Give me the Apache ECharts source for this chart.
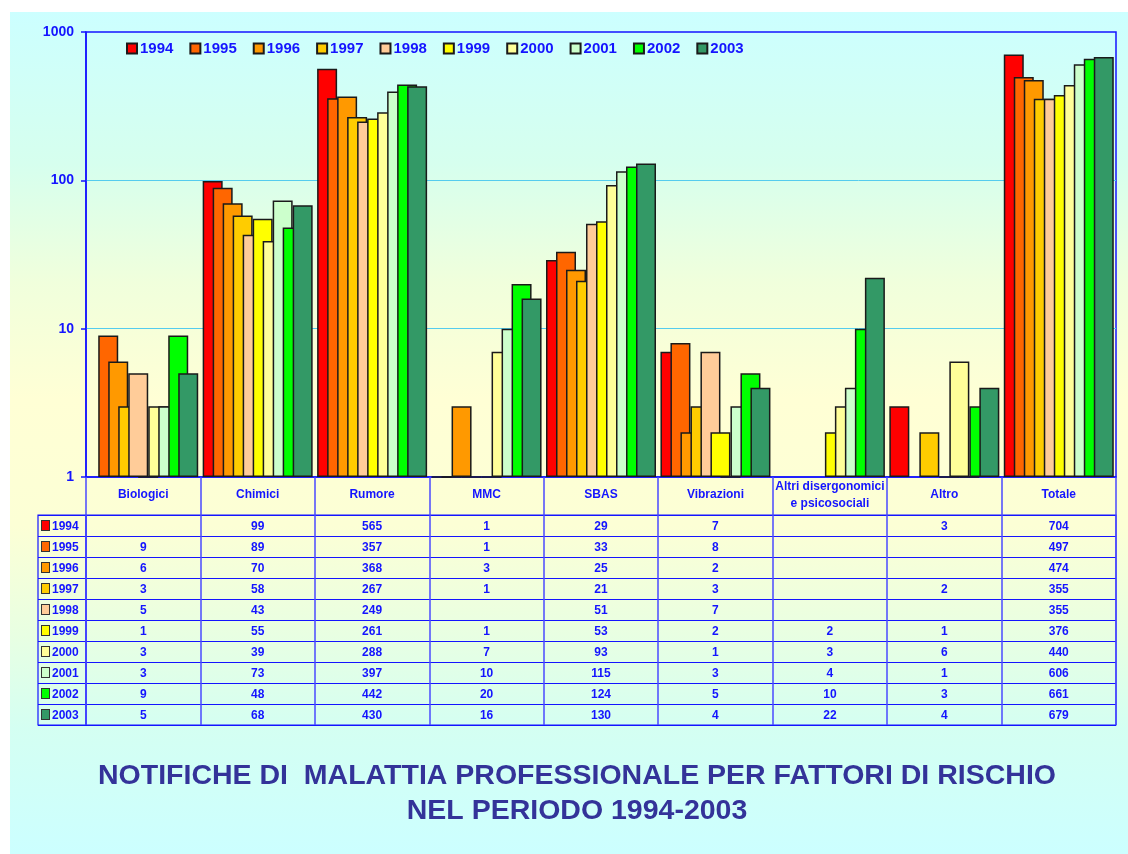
<!DOCTYPE html>
<html>
<head>
<meta charset="utf-8">
<script src="https://cdn.jsdelivr.net/npm/echarts@6/dist/echarts.min.js"></script>
<style>
  html, body { margin: 0; padding: 0; background: #ffffff; }
  #chart {
    width: 1128px; height: 854px;
    background-color: #ffffff;
    background-image: linear-gradient(to bottom, #CCFFFF 0%, #D6FFEE 18%, #F0FFDC 32%, #FFFFD5 46%, #FCFFD5 61%, #E8FFE2 74%, #D4FFF2 85%, #CCFFFF 100%);
    background-repeat: no-repeat;
    background-position: 10px 12px;
    background-size: 1118px 842px;
  }
</style>
</head>
<body>
<div id="chart"></div>
<script>
// ---- data ----
const categories = ['Biologici', 'Chimici', 'Rumore', 'MMC', 'SBAS', 'Vibrazioni', 'Altri disergonomici\ne psicosociali', 'Altro', 'Totale'];
const years = ['1994', '1995', '1996', '1997', '1998', '1999', '2000', '2001', '2002', '2003'];
const yTicks = ['1', '10', '100', '1000'];
const v1994 = [null, 99, 565, 1, 29, 7, null, 3, 704];
const v1995 = [9, 89, 357, 1, 33, 8, null, null, 497];
const v1996 = [6, 70, 368, 3, 25, 2, null, null, 474];
const v1997 = [3, 58, 267, 1, 21, 3, null, 2, 355];
const v1998 = [5, 43, 249, null, 51, 7, null, null, 355];
const v1999 = [1, 55, 261, 1, 53, 2, 2, 1, 376];
const v2000 = [3, 39, 288, 7, 93, 1, 3, 6, 440];
const v2001 = [3, 73, 397, 10, 115, 3, 4, 1, 606];
const v2002 = [9, 48, 442, 20, 124, 5, 10, 3, 661];
const v2003 = [5, 68, 430, 16, 130, 4, 22, 4, 679];
const titleText = 'NOTIFICHE DI  MALATTIA PROFESSIONALE PER FATTORI DI RISCHIO\nNEL PERIODO 1994-2003';

// ---- styles ----
const values = [v1994, v1995, v1996, v1997, v1998, v1999, v2000, v2001, v2002, v2003];
const colors = ['#FF0000', '#FF6600', '#FF9900', '#FFCC00', '#FFCC99', '#FFFF00', '#FFFF99', '#CCFFCC', '#00FF00', '#339966'];
const BLUE = '#1414FF';
const FONT = 'Arial, "Liberation Sans", sans-serif';

const chart = echarts.init(document.getElementById('chart'), null, { renderer: 'canvas' });

const barSeries = years.map((y, i) => ({
  name: y,
  type: 'bar',
  xAxisIndex: 0, yAxisIndex: 0,
  data: values[i],
  barWidth: 20,
  barGap: '-50%',
  itemStyle: { color: colors[i], borderColor: '#1a1a1a', borderWidth: 1.5 },
  emphasis: { disabled: true }
}));

// table cells
const cellData = [];
values.forEach((row, i) => row.forEach((v, j) => { if (v !== null) cellData.push([j, i, v]); }));

const rich = { t: { fontSize: 12, fontWeight: 'bold', color: BLUE, fontFamily: FONT, padding: [3, 0, 0, 3] } };
colors.forEach((c, i) => {
  rich['m' + i] = { width: 7, height: 7, backgroundColor: c, borderColor: '#333333', borderWidth: 1, padding: [2, 0, 0, 0] };
});

const option = {
  backgroundColor: 'transparent',
  animation: false,
  textStyle: { fontFamily: FONT },
  legend: {
    data: years,
    left: 121, top: 36,
    itemWidth: 10, itemHeight: 10, itemGap: 16,
    icon: 'rect',
    textStyle: { fontSize: 15, fontWeight: 'bold', color: BLUE, fontFamily: FONT, padding: [0, 0, 0, -2] }
  },
  grid: [
    { left: 86, right: 12, top: 32, bottom: 377, show: true, borderColor: BLUE, borderWidth: 1.5, backgroundColor: 'transparent' },
    { left: 86, right: 12, top: 515, bottom: 129, show: true, borderColor: BLUE, borderWidth: 1.2, backgroundColor: 'transparent' },
    { left: 38, width: 48, top: 515, bottom: 129, show: true, borderColor: BLUE, borderWidth: 1.2, backgroundColor: 'transparent' }
  ],
  xAxis: [
    {
      type: 'category', gridIndex: 0, data: categories,
      axisLine: { show: true, lineStyle: { color: BLUE, width: 1.5 } },
      axisTick: { show: true, interval: 0, length: 38, lineStyle: { color: '#4a4aff', width: 1.5 } },
      axisLabel: {
        interval: 0, margin: 18, verticalAlign: 'middle', lineHeight: 17,
        fontSize: 12, fontWeight: 'bold', color: BLUE, fontFamily: FONT
      },
      splitLine: { show: false }
    },
    {
      type: 'category', gridIndex: 1, data: categories,
      axisLine: { show: false }, axisTick: { show: false }, axisLabel: { show: false },
      splitLine: { show: true, interval: 0, lineStyle: { color: '#4a4aff', width: 1.5 } }
    },
    {
      type: 'category', gridIndex: 2, data: [''],
      axisLine: { show: false }, axisTick: { show: false }, axisLabel: { show: false },
      splitLine: { show: false }
    }
  ],
  yAxis: [
    {
      type: 'log', gridIndex: 0, logBase: 10, min: 1, max: 1000,
      axisLine: { show: true, lineStyle: { color: BLUE, width: 1.5 } },
      axisTick: { show: true, length: 5, lineStyle: { color: BLUE, width: 1.5 } },
      axisLabel: {
        margin: 12, fontSize: 14, fontWeight: 'bold', color: BLUE, fontFamily: FONT,
        formatter: v => yTicks.includes(String(Math.round(v))) ? String(Math.round(v)) : ''
      },
      splitLine: { show: true, showMinLine: false, showMaxLine: false, lineStyle: { color: '#55CCEE', width: 1 } }
    },
    {
      type: 'category', gridIndex: 1, data: years, inverse: true,
      axisLine: { show: false }, axisTick: { show: false }, axisLabel: { show: false },
      splitLine: { show: true, interval: 0, lineStyle: { color: BLUE, width: 1.2 } }
    },
    {
      type: 'category', gridIndex: 2, data: years, inverse: true,
      axisLine: { show: false }, axisTick: { show: false },
      axisLabel: {
        inside: true, margin: 4, interval: 0,
        formatter: (v, i) => '{m' + i + '|}{t|' + v + '}',
        rich: rich
      },
      splitLine: { show: true, interval: 0, lineStyle: { color: BLUE, width: 1.2 } }
    }
  ],
  series: barSeries.concat([{
    type: 'custom',
    xAxisIndex: 1, yAxisIndex: 1,
    data: cellData,
    encode: { x: 0, y: 1 },
    silent: true,
    renderItem: (params, api) => {
      const p = api.coord([api.value(0), api.value(1)]);
      return {
        type: 'text',
        x: p[0], y: p[1] + 1,
        style: {
          text: String(api.value(2)),
          fill: BLUE,
          font: 'bold 12px ' + FONT,
          textAlign: 'center',
          textVerticalAlign: 'middle'
        }
      };
    }
  }]),
  graphic: [{
    type: 'text',
    x: 577, y: 759,
    silent: true,
    style: {
      text: titleText,
      fill: '#333399',
      font: 'bold 28.5px ' + FONT,
      lineHeight: 35,
      textAlign: 'center',
      textVerticalAlign: 'top'
    }
  }]
};

chart.setOption(option);
</script>
</body>
</html>
